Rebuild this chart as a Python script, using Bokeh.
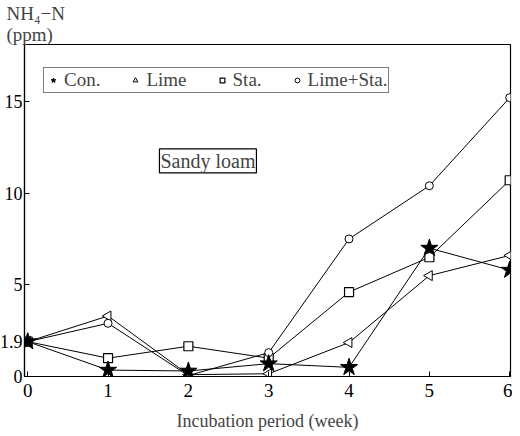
import math
from bokeh.plotting import figure
from bokeh.models import Range1d, FixedTicker, Label, Legend, LegendItem, Title
from bokeh.embed import file_html
from bokeh.resources import INLINE

weeks = [0, 1, 2, 3, 4, 5, 6]
con = [1.9, 0.35, 0.3, 0.7, 0.5, 7.0, 5.8]
lime = [1.9, 3.3, 0.1, 0.15, 1.85, 5.5, 6.6]
sta = [1.9, 1.0, 1.65, 1.0, 4.6, 6.5, 10.7]
lime_sta = [1.9, 2.9, 0.05, 1.3, 7.5, 10.4, 15.2]

x_ticks = [0, 1, 2, 3, 4, 5, 6]
y_ticks = [0, 1.9, 5, 10, 15]
y_tick_labels = {0: "0", 1.9: "1.9", 5: "5", 10: "10", 15: "15"}

FONT = "Liberation Serif"

p = figure(frame_width=486, frame_height=332, output_backend="svg", toolbar_location=None,
           x_range=Range1d(-0.04, 6.01), y_range=Range1d(0, 18.1),
           min_border_left=0, min_border_right=2, min_border_top=0, min_border_bottom=0)
p.margin = (0, 0, 0, -4)
p.grid.visible = False
p.outline_line_color = "black"
p.outline_line_width = 1.2
p.background_fill_color = "white"

p.title = Title(text="NH\u2084\u2212N\n(ppm)", align="left", offset=-18,
                text_font=FONT, text_font_size="19px", text_font_style="normal",
                text_line_height=1.0, standoff=0)

for ax in (p.xaxis[0], p.yaxis[0]):
    ax.axis_line_color = "black"
    ax.axis_line_width = 1.2
    ax.major_tick_in = 5
    ax.major_tick_out = 0
    ax.minor_tick_line_color = None
    ax.major_label_text_font = FONT
    ax.major_label_text_color = "black"

p.xaxis.major_label_text_font_size = "19px"
p.yaxis.major_label_text_font_size = "18px"
p.xaxis.ticker = FixedTicker(ticks=x_ticks)
p.yaxis.ticker = FixedTicker(ticks=y_ticks)
p.yaxis.major_label_overrides = y_tick_labels
p.xaxis.major_label_standoff = 7
p.yaxis.major_label_standoff = 2
p.xaxis.axis_label = "Incubation period (week)"
p.xaxis.axis_label_text_font = FONT
p.xaxis.axis_label_text_font_size = "18px"
p.xaxis.axis_label_text_font_style = "normal"
p.xaxis.axis_label_standoff = 11

lw = 1.0
p.line(weeks, con, line_color="black", line_width=lw)
p.line(weeks, lime, line_color="black", line_width=lw)
p.line(weeks, sta, line_color="black", line_width=lw)
p.line(weeks, lime_sta, line_color="black", line_width=lw)

m_lime = p.scatter(weeks, lime, marker="triangle", size=10, angle=math.pi / 2,
                   fill_color="white", line_color="black", line_width=1)
m_sta = p.scatter(weeks, sta, marker="square", size=9,
                  fill_color="white", line_color="black", line_width=1.2)
m_ls = p.scatter(weeks, lime_sta, marker="circle", size=8,
                 fill_color="white", line_color="black", line_width=1)
m_con = p.scatter(weeks, con, marker="star", size=18,
                  fill_color="black", line_color="black", line_width=1)

legend = Legend(items=[
    LegendItem(label="Con.", renderers=[m_con]),
    LegendItem(label="Lime", renderers=[m_lime]),
    LegendItem(label="Sta.", renderers=[m_sta]),
    LegendItem(label="Lime+Sta.", renderers=[m_ls]),
], orientation="horizontal", location=(19, 283))
legend.label_text_font = FONT
legend.label_text_font_size = "19px"
legend.label_height = 16
legend.glyph_height = 12
legend.border_line_color = "black"
legend.border_line_width = 1.5
legend.padding = 1
legend.margin = 0
legend.spacing = 27
legend.glyph_width = 16
legend.label_standoff = 3
legend.background_fill_alpha = 1
p.add_layout(legend, "center")

p.add_layout(Label(x=1.64, y=11.1, text="Sandy loam", text_font=FONT,
                   text_font_size="20px", text_baseline="bottom",
                   border_line_color="black", border_line_width=1.2,
                   background_fill_color="white", padding=1))

open("out.html", "w").write(file_html(p, INLINE))
